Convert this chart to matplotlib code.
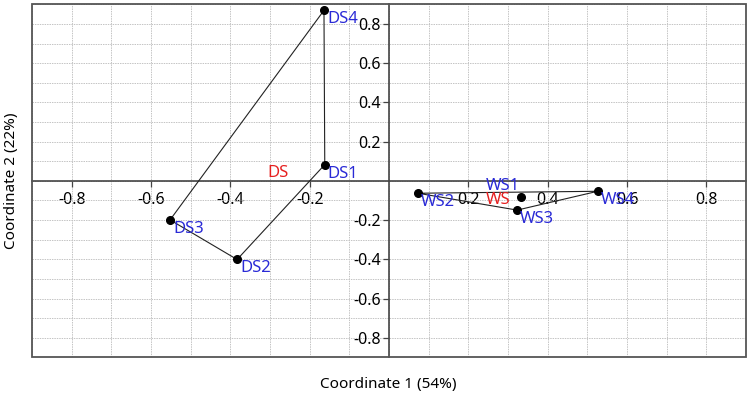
import matplotlib
matplotlib.use("Agg")
import matplotlib.pyplot as plt
from matplotlib.patches import Rectangle
from matplotlib.ticker import FixedLocator, MultipleLocator
import numpy as np

plt.rcParams['font.family'] = ['Noto Sans', 'DejaVu Sans']
plt.rcParams['axes.unicode_minus'] = False

# sample coordinates
ds_names = ['DS1', 'DS2', 'DS3', 'DS4']
ds_x = [-0.162, -0.383, -0.552, -0.164]
ds_y = [0.083, -0.401, -0.199, 0.870]

ws_names = ['WS1', 'WS2', 'WS3', 'WS4']
ws_x = [0.333, 0.073, 0.323, 0.526]
ws_y = [-0.080, -0.063, -0.149, -0.053]

major_ticks = [-0.8, -0.6, -0.4, -0.2, 0.2, 0.4, 0.6, 0.8]

BLUE = '#2a2ad6'
RED = '#e62020'


def convex_hull(pts):
    pts = sorted(set(pts))
    if len(pts) < 3:
        return pts

    def cross(o, a, b):
        return (a[0] - o[0]) * (b[1] - o[1]) - (a[1] - o[1]) * (b[0] - o[0])

    lower, upper = [], []
    for p in pts:
        while len(lower) >= 2 and cross(lower[-2], lower[-1], p) <= 0:
            lower.pop()
        lower.append(p)
    for p in reversed(pts):
        while len(upper) >= 2 and cross(upper[-2], upper[-1], p) <= 0:
            upper.pop()
        upper.append(p)
    return lower[:-1] + upper[:-1]


fig = plt.figure(figsize=(7.5, 3.96), dpi=100)
ax = fig.add_axes([0.0427, 0.0977, 0.952, 0.891])
ax.set_xlim(-0.9, 0.9)
ax.set_ylim(-0.9, 0.9)

# frame
for s in ['top', 'right']:
    ax.spines[s].set_visible(False)
ax.add_patch(Rectangle((0, 0), 1, 1, transform=ax.transAxes, fill=False,
                       edgecolor='#555555', linewidth=1.3, zorder=5,
                       clip_on=False))
ax.spines['left'].set_position('zero')
ax.spines['bottom'].set_position('zero')
for s in ['left', 'bottom']:
    ax.spines[s].set_color('#444444')
    ax.spines[s].set_linewidth(1.2)

ax.xaxis.set_major_locator(FixedLocator(major_ticks))
ax.yaxis.set_major_locator(FixedLocator(major_ticks))
ax.xaxis.set_minor_locator(MultipleLocator(0.1))
ax.yaxis.set_minor_locator(MultipleLocator(0.1))
ax.tick_params(which='major', direction='out', length=4, width=0.9,
               color='#444444', labelsize=11.5, pad=2)
ax.tick_params(axis='x', which='major', pad=4)
ax.tick_params(which='minor', length=0)
ax.grid(which='both', color='#c4c4c4', linestyle=(0, (1.5, 1)),
        linewidth=0.7)
ax.set_axisbelow(True)

groups = [(ds_names, ds_x, ds_y, 'DS', (3, -9), 'left'),
          (ws_names, ws_x, ws_y, 'WS', (-3, -2), 'right')]
label_offsets = {'WS1': ((-1, 11), 'right')}

for names, xs, ys, gname, goff, gha in groups:
    hull = convex_hull(list(zip(xs, ys)))
    hx = [p[0] for p in hull] + [hull[0][0]]
    hy = [p[1] for p in hull] + [hull[0][1]]
    ax.plot(hx, hy, color='#222222', linewidth=0.8, zorder=3)
    ax.plot(xs, ys, 'o', color='black', markersize=5.5, zorder=4)
    for n, x, y in zip(names, xs, ys):
        off, ha = label_offsets.get(n, ((3, -9), 'left'))
        ax.annotate(n, (x, y), xytext=off, textcoords='offset pixels',
                    ha=ha, va='center', color=BLUE, fontsize=12, zorder=6)
    ax.annotate(gname, (np.mean(xs), np.mean(ys)), xytext=goff,
                textcoords='offset pixels', ha=gha, va='center',
                color=RED, fontsize=12, zorder=6)

fig.text(0.517, 0.028, 'Coordinate 1 (54%)', ha='center', va='center',
         fontsize=11)
fig.text(0.016, 0.543, 'Coordinate 2 (22%)', ha='center', va='center',
         rotation=90, fontsize=11)

fig.savefig('out.png', dpi=100)
